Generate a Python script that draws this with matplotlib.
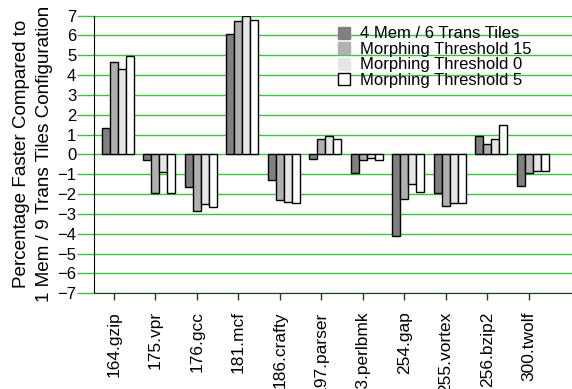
import numpy as np
import matplotlib.pyplot as plt
from matplotlib.patches import Patch

plt.rcParams['font.family'] = ['Liberation Sans', 'DejaVu Sans']

benchmarks = ['164.gzip', '175.vpr', '176.gcc', '181.mcf', '186.crafty', '197.parser',
              '253.perlbmk', '254.gap', '255.vortex', '256.bzip2', '300.twolf']
mem4_trans6 = [1.31, -0.29, -1.63, 6.06, -1.29, -0.24, -0.96, -4.11, -1.96, 0.95, -1.60]
morph_15 = [4.67, -1.93, -2.86, 6.73, -2.30, 0.79, -0.30, -2.27, -2.59, 0.52, -0.96]
morph_0 = [4.30, -0.87, -2.49, 6.95, -2.40, 0.94, -0.19, -1.50, -2.47, 0.80, -0.83]
morph_5 = [4.95, -1.93, -2.64, 6.78, -2.47, 0.80, -0.29, -1.91, -2.47, 1.46, -0.86]

series = [mem4_trans6, morph_15, morph_0, morph_5]
labels = ['4 Mem / 6 Trans Tiles', 'Morphing Threshold 15',
          'Morphing Threshold 0', 'Morphing Threshold 5']
fills = ['#808080', '#b0b0b0', '#e6e6e6', '#ffffff']

fig = plt.figure(figsize=(5.72, 3.89), dpi=100)
ax = fig.add_axes([94.3 / 572, 95.7 / 389, 1 - 94.3 / 572, 277.8 / 389])

grid_green = '#3cc43c'
x = np.arange(len(benchmarks))
w = 0.193

for j, vals in enumerate(series):
    ax.bar(x + j * w, vals, width=w, align='edge', color=fills[j],
           edgecolor='black', linewidth=1.0, zorder=3)

ax.set_ylim(-7, 7)
ax.set_xlim(-0.178, 11.33)
ax.set_yticks(range(-7, 8))
ax.yaxis.grid(True, color=grid_green, linewidth=1.0, zorder=0)
ax.set_axisbelow(True)

ax.set_xticks(x + 1.5 * w)
ax.set_xticklabels(benchmarks, rotation=90, fontsize=12.5, va='top')
ax.tick_params(axis='x', length=5, width=1.0, color='#333333', pad=8)
ax.tick_params(axis='y', length=12, width=1.0, color=grid_green, pad=1, labelsize=12)

for side in ['top', 'right']:
    ax.spines[side].set_visible(False)
ax.spines['left'].set_color('black')
ax.spines['bottom'].set_color('#1a3a1a')

fig.text(33 / 572, 1 - 154 / 389,
         'Percentage Faster Compared to\n1 Mem / 9 Trans Tiles Configuration',
         rotation=90, ha='center', va='center', multialignment='center',
         fontsize=13.6, linespacing=1.4)

handles = [Patch(facecolor=fills[0], edgecolor=fills[0]),
           Patch(facecolor=fills[1], edgecolor=fills[1]),
           Patch(facecolor=fills[2], edgecolor=fills[2]),
           Patch(facecolor=fills[3], edgecolor='black', linewidth=1.0)]
ax.legend(handles, labels, loc='upper left', bbox_to_anchor=(338 / 572, 0.932),
          bbox_transform=fig.transFigure, frameon=False, fontsize=12,
          handlelength=0.72, handleheight=0.72, handletextpad=0.6,
          labelspacing=0.03, borderpad=0, borderaxespad=0)

fig.savefig('out.png', dpi=100)
